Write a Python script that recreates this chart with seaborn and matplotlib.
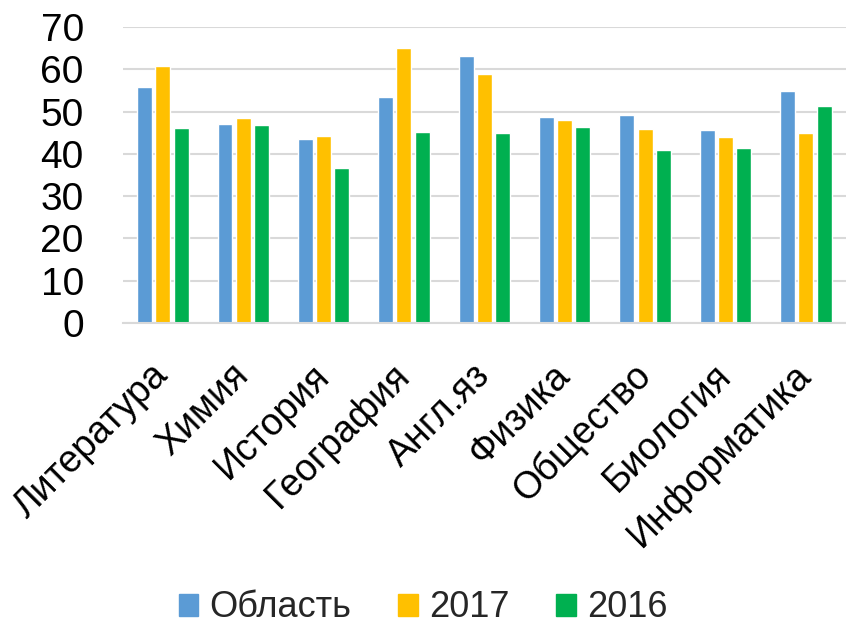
import pandas as pd
import seaborn as sns
import matplotlib.pyplot as plt

subjects = ['Литература', 'Химия', 'История', 'География', 'Англ.яз',
            'Физика', 'Общество', 'Биология', 'Информатика']
oblast = [55.9, 47.1, 43.5, 53.4, 63.1, 48.8, 49.1, 45.7, 54.9]
y2017 = [60.7, 48.4, 44.1, 65.0, 58.8, 48.1, 45.8, 43.9, 45.0]
y2016 = [46.0, 46.8, 36.6, 45.2, 44.9, 46.3, 40.8, 41.3, 51.2]
series = ['Область', '2017', '2016']
colors = ['#5B9BD5', '#FFC000', '#00B050']

df = pd.DataFrame({'subject': subjects, 'Область': oblast, '2017': y2017, '2016': y2016})
df = df.melt(id_vars='subject', var_name='series', value_name='value')

sns.set_style('white')
plt.rcParams['font.family'] = ['Liberation Sans', 'DejaVu Sans']

fig = plt.figure(figsize=(8.46, 6.28), dpi=100)
ax = fig.add_axes([0.145, 0.486, 0.855, 0.471])
sns.barplot(data=df, x='subject', y='value', hue='series', hue_order=series,
            palette=colors, width=0.68, saturation=1, ax=ax, legend=False)

# leave small gaps between bars of one group
for p in ax.patches:
    w = p.get_width()
    p.set_x(p.get_x() + w * 0.09)
    p.set_width(w * 0.82)

ax.set_ylim(0, 70)
ax.set_yticks(range(0, 71, 10))
ax.set_xlim(-0.5, len(subjects) - 0.5)
ax.yaxis.grid(True, color='#D9D9D9', linewidth=1.5)
ax.set_axisbelow(True)
for s in ['top', 'right', 'left']:
    ax.spines[s].set_visible(False)
ax.spines['bottom'].set_color('#D9D9D9')
ax.spines['bottom'].set_linewidth(1.5)
ax.set_xlabel('')
ax.set_ylabel('')
ax.tick_params(axis='y', length=0, labelsize=28, colors='black', pad=28)
ax.tick_params(axis='x', length=0, labelsize=27, colors='black', pad=34)
plt.setp(ax.get_yticklabels(), ha='right')
plt.setp(ax.get_xticklabels(), rotation=45, ha='right', va='center',
         rotation_mode='anchor')

handles = [plt.Rectangle((0, 0), 1, 1, color=c) for c in colors]
fig.legend(handles, series, loc='center', bbox_to_anchor=(0.50, 0.032), ncol=3,
           frameon=False, fontsize=26, handlelength=0.55, handleheight=0.55,
           handletextpad=0.3, columnspacing=1.3)

fig.savefig('out.png', dpi=100)
